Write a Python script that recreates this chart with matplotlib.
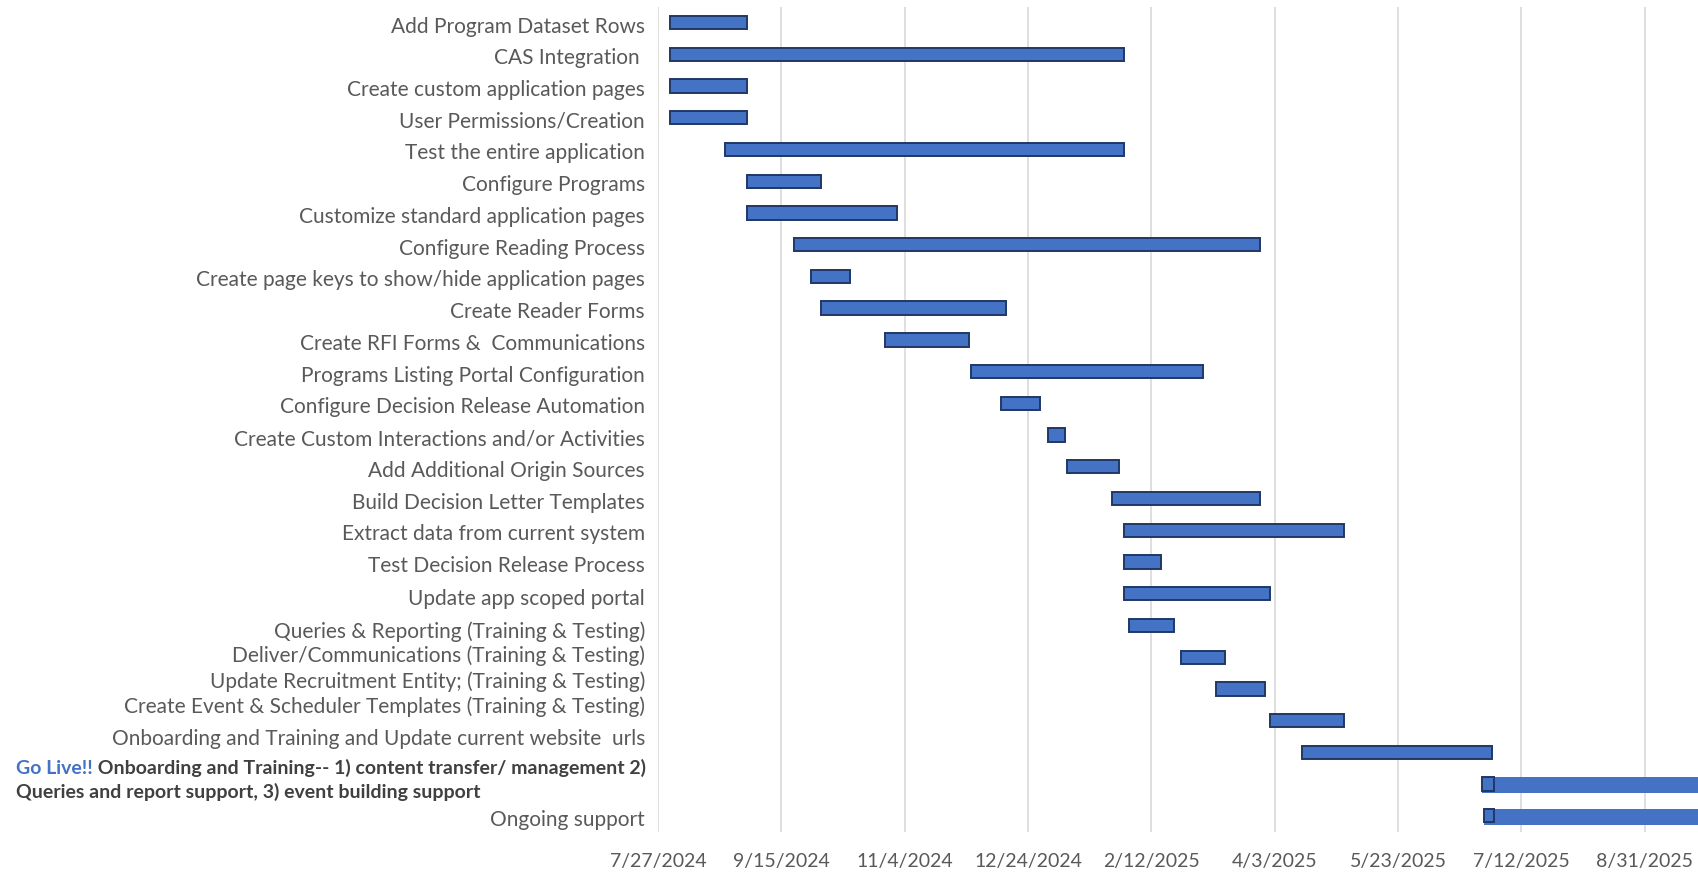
import matplotlib
matplotlib.use("Agg")
import matplotlib.pyplot as plt
import matplotlib.dates as mdates
import matplotlib.transforms as mtransforms
import pandas as pd

plt.rcParams['font.family'] = ['Lato', 'DejaVu Sans']

# task list, top to bottom
tasks = [
    "Add Program Dataset Rows",
    "CAS Integration ",
    "Create custom application pages",
    "User Permissions/Creation",
    "Test the entire application",
    "Configure Programs",
    "Customize standard application pages",
    "Configure Reading Process",
    "Create page keys to show/hide application pages",
    "Create Reader Forms",
    "Create RFI Forms &  Communications",
    "Programs Listing Portal Configuration",
    "Configure Decision Release Automation",
    "Create Custom Interactions and/or Activities",
    "Add Additional Origin Sources",
    "Build Decision Letter Templates",
    "Extract data from current system",
    "Test Decision Release Process",
    "Update app scoped portal",
    "Queries & Reporting (Training & Testing)",
    "Deliver/Communications (Training & Testing)",
    "Update Recruitment Entity; (Training & Testing)",
    "Create Event & Scheduler Templates (Training & Testing)",
    "Onboarding and Training and Update current website  urls",
    "",  # go live row, label drawn separately
    "Ongoing support",
]

start = [
    "2024-08-01", "2024-08-01", "2024-08-01", "2024-08-01", "2024-08-23",
    "2024-09-01", "2024-09-01", "2024-09-20", "2024-09-27", "2024-10-01",
    "2024-10-27", "2024-12-01", "2024-12-13", "2025-01-01", "2025-01-09",
    "2025-01-27", "2025-02-01", "2025-02-01", "2025-02-01", "2025-02-03",
    "2025-02-24", "2025-03-10", "2025-04-01", "2025-04-14", "2025-06-26",
    "2025-06-27",
]
end = [
    "2024-09-01", "2025-02-01", "2024-09-01", "2024-09-01", "2025-02-01",
    "2024-10-01", "2024-11-01", "2025-03-28", "2024-10-13", "2024-12-15",
    "2024-11-30", "2025-03-05", "2024-12-29", "2025-01-08", "2025-01-30",
    "2025-03-28", "2025-05-01", "2025-02-16", "2025-04-01", "2025-02-21",
    "2025-03-14", "2025-03-30", "2025-05-01", "2025-06-30", "2025-07-01",
    "2025-07-01",
]

# open-ended tails for the last two rows
tail_rows = [24, 25]
tail_end = ["2025-12-31", "2025-12-31"]

golive_word = "Go Live!!"
golive_line1 = " Onboarding and Training-- 1) content transfer/ management 2)"
golive_line2 = "Queries and report support, 3) event building support"

axis_start = "2024-07-27"
tick_step_days = 50
n_ticks = 9

# label vertical nudges in pixels (down is positive), to mimic the source layout
label_nudge = [0] * 18 + [1, 2, -5, -11, -18, -17, 0, 0]

BLUE = "#4472C4"
EDGE = "#1F3864"
GREY = "#595959"

s = mdates.date2num(pd.to_datetime(start))
e = mdates.date2num(pd.to_datetime(end))
x0 = mdates.date2num(pd.Timestamp(axis_start))
rows = list(range(len(tasks)))

fig = plt.figure(figsize=(16.99, 8.73), dpi=100)
ax = fig.add_axes([658 / 1699, 41.3 / 873, (1699 - 658) / 1699, 825 / 873])

# tails (no outline), drawn first
ts = [s[r] for r in tail_rows]
te = mdates.date2num(pd.to_datetime(tail_end))
ax.barh([r - 0.21 for r in tail_rows], te - ts, left=ts, height=0.49,
        align='edge', color=BLUE, edgecolor='none', zorder=2)

ax.barh(rows, e - s, left=s, height=0.42, color=BLUE, edgecolor=EDGE,
        linewidth=1.4, zorder=3)

ax.set_ylim(len(tasks) - 0.5, -0.5)
ax.set_xlim(x0, x0 + 422)

ticks = pd.date_range(axis_start, periods=n_ticks, freq=f"{tick_step_days}D")
ax.set_xticks(mdates.date2num(ticks))
ax.set_xticklabels([f"{d.month}/{d.day}/{d.year}" for d in ticks])
ax.tick_params(axis='x', length=0, pad=15, labelsize=14, labelcolor=GREY)
ax.set_yticks([])
ax.grid(axis='x', color="#D9D9D9", linewidth=1.2, zorder=0)
ax.set_axisbelow(True)
for sp in ax.spines.values():
    sp.set_visible(False)

# category labels
base = mtransforms.blended_transform_factory(ax.transAxes, ax.transData)
for r, (lab, nud) in enumerate(zip(tasks, label_nudge)):
    if not lab:
        continue
    tr = mtransforms.offset_copy(base, fig=fig, x=-13, y=-nud - 4, units='dots')
    ax.text(0, r, lab, transform=tr, ha='right', va='center',
            fontsize=15, color=GREY)

# go live label, two lines with a coloured lead word
gl = tail_rows[0]
fbase = mtransforms.blended_transform_factory(fig.transFigure, ax.transData)
tr1 = mtransforms.offset_copy(fbase, fig=fig, x=16, y=16, units='dots')
tr2 = mtransforms.offset_copy(fbase, fig=fig, x=16, y=-8, units='dots')
t1 = ax.text(0, gl, golive_word, transform=tr1, ha='left', va='center',
             fontsize=14, fontweight='bold', color=BLUE)
ax.annotate(golive_line1, xy=(1, 0), xycoords=t1, ha='left', va='bottom',
            fontsize=14, fontweight='bold', color="#404040")
ax.text(0, gl, golive_line2, transform=tr2, ha='left', va='center',
        fontsize=14, fontweight='bold', color="#404040")

fig.savefig("out.png", dpi=100)
